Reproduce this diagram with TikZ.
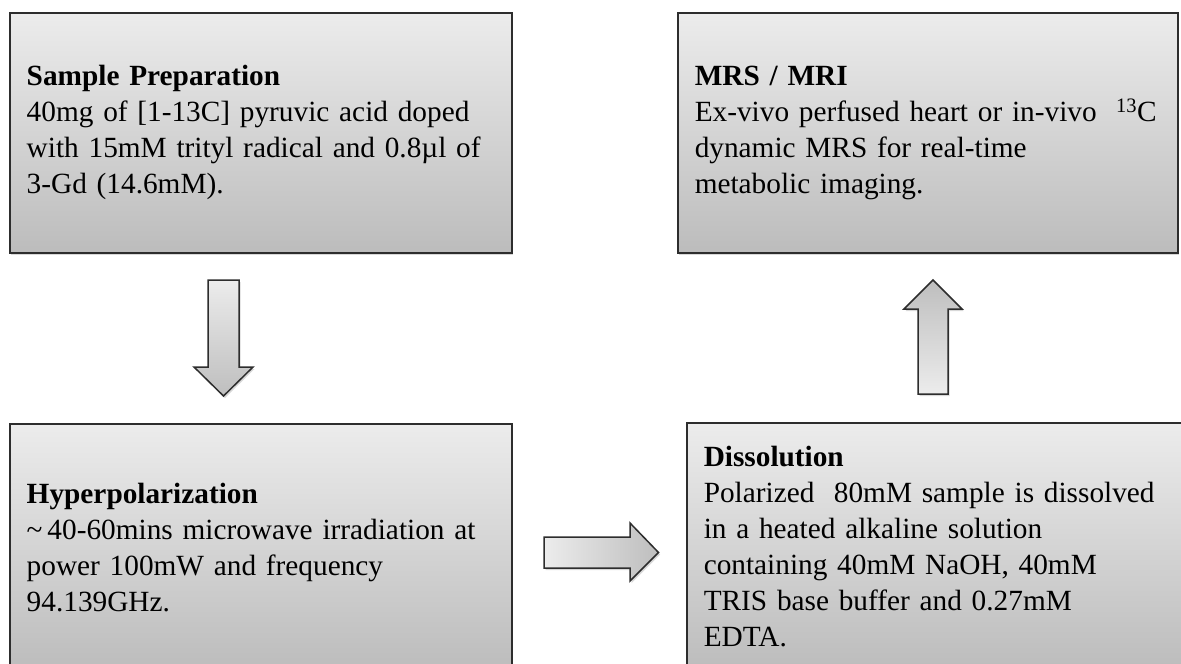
\documentclass[tikz,border=0pt]{standalone}
\usepackage{fontspec}
\setmainfont{Liberation Serif}
\usetikzlibrary{shadows}

\definecolor{boxtop}{RGB}{236,236,236}
\definecolor{boxbot}{RGB}{188,188,188}
\definecolor{arrlight}{RGB}{236,236,236}
\definecolor{arrdark}{RGB}{190,190,190}
\definecolor{edge}{RGB}{45,45,45}

\tikzset{
  stagebox/.style={
    draw=edge, line width=1.5pt, top color=boxtop, bottom color=boxbot,
    drop shadow={opacity=0.3, shadow xshift=1.5pt, shadow yshift=-2.5pt},
    anchor=north west, inner xsep=17pt, inner ysep=0pt,
    align=left, font=\fontsize{29.3}{36}\selectfont
  },
  blockarrow/.style={
    draw=edge, line width=1.5pt, line join=miter,
    drop shadow={opacity=0.3, shadow xshift=1.5pt, shadow yshift=-2pt}
  }
}

\begin{document}
\begin{tikzpicture}[x=1pt, y=-1pt]
  \useasboundingbox (0,0) rectangle (1181,664);
  \clip (0,0) rectangle (1181,664);
  \fill[white] (0,0) rectangle (1181,664);

  % process stages
  \node[stagebox, minimum width=502pt, minimum height=240pt, text width=468pt]
    (prep) at (9,12)
    {\textbf{Sample Preparation}\\
     40mg of [1-13C] pyruvic acid doped\\
     with 15mM trityl radical and 0.8µl of\\
     3-Gd (14.6mM).};

  \node[stagebox, minimum width=500pt, minimum height=240pt, text width=466pt]
    (mrs) at (677,12)
    {\textbf{MRS / MRI}\\
     Ex-vivo perfused heart or in-vivo\ \ \textsuperscript{13}C\\
     dynamic MRS for real-time\\
     metabolic imaging.};

  \node[stagebox, minimum width=502pt, minimum height=247pt, text width=468pt]
    (hyper) at (9,423)
    {\textbf{Hyperpolarization}\\
     \textasciitilde\,40-60mins microwave irradiation at\\
     power 100mW and frequency\\
     94.139GHz.};

  \node[stagebox, minimum width=498pt, minimum height=248pt, text width=464pt]
    (diss) at (686,422)
    {\textbf{Dissolution}\\
     Polarized\ \ 80mM sample is dissolved\\
     in a heated alkaline solution\\
     containing 40mM NaOH, 40mM\\
     TRIS base buffer and 0.27mM\\
     EDTA.};

  % flow between the stages: block arrows
  % Sample Preparation -> Hyperpolarization (down)
  \coordinate (a1) at (223.5,280);
  \path[blockarrow, top color=arrlight, bottom color=arrdark]
    (a1) ++(-15.5,0) -- ++(31,0) -- ++(0,87) -- ++(14,0)
    -- (223.5,396) -- (194,367) -- ++(14,0) -- cycle;

  % Hyperpolarization -> Dissolution (right)
  \coordinate (a2) at (544,552.5);
  \path[blockarrow, left color=arrlight, right color=arrdark]
    (a2) ++(0,-15.5) -- ++(86,0) -- ++(0,-14) -- (658.5,552.5)
    -- (630,581) -- ++(0,-13) -- ++(-86,0) -- cycle;

  % Dissolution -> MRS / MRI (up)
  \coordinate (a3) at (933,394);
  \path[blockarrow, top color=arrdark, bottom color=arrlight]
    (a3) ++(-15,0) -- ++(0,-85) -- ++(-14,0) -- (933,280)
    -- (962,309) -- ++(-14,0) -- ++(0,85) -- cycle;
\end{tikzpicture}
\end{document}
